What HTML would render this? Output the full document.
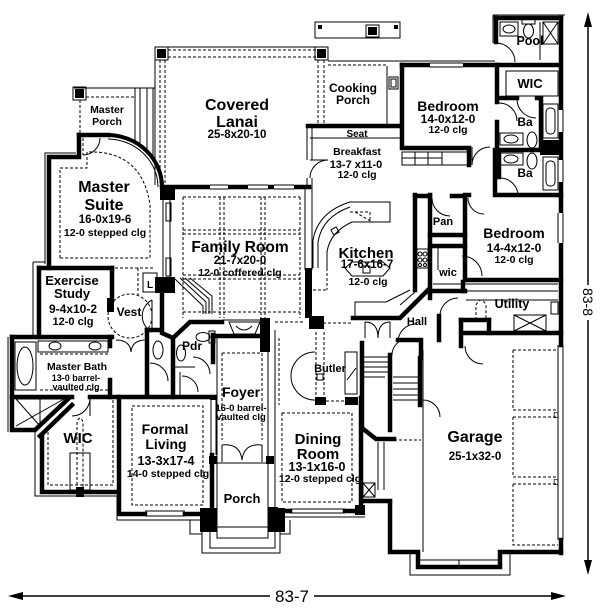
<!DOCTYPE html>
<html><head><meta charset="utf-8"><style>
html,body{margin:0;padding:0;background:#fff}
svg{display:block}
.k{fill:#000}
.t{fill:none;stroke:#000;stroke-width:1}
.d{fill:none;stroke:#000;stroke-width:1;stroke-dasharray:3 2}
.w{fill:none;stroke:#000;stroke-width:4.5;stroke-linecap:square}
.m{fill:none;stroke:#000;stroke-width:3;stroke-linecap:square}
.wh{fill:#fff}
text{font-family:"Liberation Sans",Arial,sans-serif;text-anchor:middle;fill:#000}
.b{font-weight:bold}
</style></head><body>
<svg width="600" height="614" viewBox="0 0 600 614" xmlns="http://www.w3.org/2000/svg">
<rect width="600" height="614" fill="#fff"/>

<!-- ===== Dimension arrows ===== -->
<line x1="588" y1="24" x2="588" y2="285" stroke="#000" stroke-width="1.5"/>
<line x1="588" y1="320" x2="588" y2="562" stroke="#000" stroke-width="1.5"/>
<polygon points="588,12 584,27 592,27" class="k"/>
<polygon points="588,575 584,560 592,560" class="k"/>
<text transform="translate(583,302) rotate(90)" font-size="14">83-8</text>
<line x1="20" y1="596" x2="270" y2="596" stroke="#000" stroke-width="1.5"/>
<line x1="314" y1="596" x2="554" y2="596" stroke="#000" stroke-width="1.5"/>
<polygon points="8,596 23,592 23,600" class="k"/>
<polygon points="566,596 551,592 551,600" class="k"/>
<text x="292" y="602" font-size="17">83-7</text>

<!-- ===== Covered Lanai ===== -->
<path class="t" d="M155,47 H316"/>
<path class="d" d="M168,50 H316 M168,57 H316"/>
<path class="t" d="M155,47 V185"/>
<path class="d" d="M160,60 V185 M165,60 V185"/>
<rect x="155" y="47" width="13" height="13" class="t"/><rect x="157" y="49" width="9" height="9" class="k"/>
<path class="d" d="M318,60 V125 M324,60 V125"/>
<rect x="315" y="47" width="13" height="13" class="t"/><rect x="317" y="49" width="9" height="9" class="k"/>

<!-- Cooking porch -->
<rect x="315" y="22" width="85" height="16" class="t"/>
<rect x="318" y="25" width="4" height="4" class="k"/><rect x="394" y="25" width="4" height="4" class="k"/>
<rect x="366" y="25" width="13" height="12" class="t"/><rect x="368" y="27" width="9" height="8" class="k"/>
<path class="t" d="M328,61 H495"/>
<path class="d" d="M328,65 H386"/>
<path class="t" d="M387,66 V125"/>
<rect x="389" y="77" width="9" height="12" class="t"/><rect x="391" y="79" width="5" height="8" class="t"/>

<!-- Master porch -->
<path class="t" d="M74,88 H155"/>
<path class="d" d="M86,97 H135"/>
<path class="d" d="M80,100 V133"/>
<path class="t" d="M135,88 V140 M140,88 V143 M147,88 V150 M153,88 V160"/>
<rect x="73" y="87" width="13" height="13" class="t"/><rect x="75" y="89" width="9" height="9" class="k"/>

<!-- ===== Master Suite ===== -->
<path class="w" d="M79,135 V157 H49 V268"/>
<path class="w" d="M79,135 H108"/>
<path d="M108,135 A55,52 0 0 1 162,187" fill="none" stroke="#000" stroke-width="4"/>
<path d="M108,139 A51,48 0 0 1 158,187" fill="none" stroke="#000" stroke-width="1"/>
<path class="t" d="M45,264 V153 H76"/>
<path class="t" d="M83,155 A17,17 0 0 0 100,138"/>
<path class="d" d="M83,138 V155"/>
<path class="d" d="M60,258 V168 H87 V152 Q142,150 150,205 V258 Z"/>
<rect x="160" y="185" width="15" height="15" class="k"/>
<path class="t" d="M163,200 V282 M170,200 V282"/>
<rect x="166" y="203" width="5" height="18" class="t"/>
<rect x="166" y="258" width="5" height="18" class="t"/>

<!-- Family room top wall -->
<path class="w" d="M162,187 H309"/>
<rect x="210" y="185" width="18" height="5" class="wh"/>
<rect x="248" y="185" width="20" height="5" class="wh"/>
<rect x="274" y="185" width="20" height="5" class="wh"/>
<path class="t" d="M210,185 H228 M210,189 H228 M248,185 H268 M248,189 H268 M274,185 H294 M274,189 H294"/>

<!-- coffered grid -->
<path class="d" d="M183,197 V318 M220,197 V318 M224,197 V318 M261,197 V318 M265,197 V318 M300,197 V318"/>
<path class="d" d="M183,197 H300 M183,230 H300 M183,234 H300 M183,275 H300 M183,279 H300 M183,312 H300"/>

<!-- family right / kitchen left -->
<path class="t" d="M305,185 V270 M312,185 V270"/>
<rect x="305" y="268" width="7" height="50" class="k"/>
<rect x="309" y="316" width="15" height="13" class="k"/>

<!-- Breakfast -->
<path class="w" d="M308,126 H400"/>
<path class="t" d="M310,138 H400"/>
<path class="t" d="M307,128 V160 M312,128 V160 M307,178 V186 M312,178 V186"/>
<path class="t" d="M310,178 A18,18 0 0 1 328,160"/>
<path class="t" d="M310,160 H328"/>

<!-- ===== Bedroom (top) ===== -->
<path class="w" d="M402,65 H560"/>
<rect x="430" y="63" width="33" height="5" class="wh"/>
<path class="t" d="M430,63 H463 M430,67 H463"/>
<path class="w" d="M402,65 V148 H469 V165"/>
<path class="w" d="M497,65 V102"/>
<path class="w" d="M497,122 V148"/>
<path class="t" d="M499,103 A18,18 0 0 1 517,121"/>
<path class="w" d="M495,150 V195"/>
<path class="t" d="M472,165 A18,18 0 0 1 490,147"/>
<path class="t" d="M472,147 V165"/>
<rect x="402" y="152" width="66" height="13" class="t"/>
<path class="t" d="M415,152 V165 M428,152 V165 M442,152 V165 M402,158 H442"/>

<!-- Pool bath -->
<path class="t" d="M493,15 H565 M493,15 V43"/>
<path class="w" d="M496,18 H561"/>
<path class="w" d="M496,18 V42"/>
<path class="t" d="M496,43 A19,19 0 0 1 515,62"/>
<rect x="522" y="19" width="13" height="5" class="t"/>
<ellipse cx="528.5" cy="31" rx="5" ry="7" class="t"/>
<rect x="500" y="22" width="18" height="14" class="t"/>
<ellipse cx="509" cy="29" rx="6" ry="4" class="t"/>
<rect x="543" y="22" width="15" height="22" class="t"/>
<path class="t" d="M543,22 L558,44 M558,22 L543,44"/>
<path class="t" d="M540,22 V60"/>

<!-- right outer wall -->
<path class="w" d="M561,18 V345"/>
<rect x="558" y="213" width="6" height="30" class="wh"/>
<path class="t" d="M558,213 V243 M563,213 V243"/>
<rect x="558" y="110" width="6" height="22" class="wh"/>
<path class="t" d="M558,110 V132 M563,110 V132"/>
<rect x="558" y="160" width="6" height="22" class="wh"/>
<path class="t" d="M558,160 V182 M563,160 V182"/>
<path class="t" d="M558,345 V540 M563,345 V540"/>
<path class="w" d="M561,540 V553"/>

<!-- WIC & baths right -->
<rect x="506" y="71" width="52" height="25" class="t"/>
<path class="w" d="M499,98 H517"/>
<path class="w" d="M537,98 H541 V148"/>
<path class="t" d="M517,99 A19,19 0 0 0 536,118"/>
<rect x="543" y="104" width="15" height="34" class="t"/>
<rect x="546" y="108" width="9" height="26" rx="4" class="t"/>
<rect x="540" y="140" width="21" height="15" class="k"/>
<rect x="543" y="157" width="15" height="33" class="t"/>
<rect x="546" y="161" width="9" height="25" rx="4" class="t"/>
<path class="w" d="M499,150 H540"/>
<rect x="500" y="133" width="23" height="12" class="t"/><ellipse cx="511" cy="139" rx="7" ry="4" class="t"/>
<ellipse cx="532" cy="140" rx="5" ry="8" class="t"/>
<rect x="500" y="153" width="23" height="12" class="t"/><ellipse cx="511" cy="159" rx="7" ry="4" class="t"/>
<ellipse cx="532" cy="161" rx="5" ry="8" class="t"/>
<path class="w" d="M499,150 V177"/>
<path class="t" d="M500,178 A18,18 0 0 1 518,196"/>
<path class="w" d="M499,195 H561"/>

<!-- ===== Bedroom (lower) ===== -->
<path class="w" d="M465,195 H469"/>
<path class="t" d="M468,198 A16,16 0 0 0 484,214"/>
<path class="w" d="M465,197 V280 H561"/>
<!-- pan / wic -->
<path class="w" d="M415,195 V290"/>
<path class="w" d="M430,195 V292"/>
<path class="w" d="M415,196 H430"/>
<path class="w" d="M452,196 H465"/>
<path class="t" d="M432,198 A18,18 0 0 0 450,216"/>
<path class="w" d="M430,235 H465"/>
<path class="w" d="M430,246 H465"/>
<path class="t" d="M438,248 V270"/>
<path class="t" d="M462,256 A20,20 0 0 1 482,276"/>
<path class="w" d="M428,291 H465"/>
<!-- stove -->
<rect x="417" y="249" width="11" height="19" class="t"/>
<circle cx="420" cy="254" r="2" class="t"/><circle cx="425" cy="254" r="2" class="t"/>
<circle cx="420" cy="260" r="2" class="t"/><circle cx="425" cy="260" r="2" class="t"/>
<circle cx="420" cy="265" r="1.5" class="t"/><circle cx="425" cy="265" r="1.5" class="t"/>

<!-- ===== Kitchen ===== -->
<path class="t" d="M313,268 V240 Q318,212 350,202 H390 V222 H352 Q330,232 327,252 V268"/>
<path class="t" d="M318,268 V242 Q322,217 350,207"/>
<path class="d" d="M355,212 L372,222 M350,212 H370 V222"/>
<rect x="332" y="228" width="6" height="6" class="t" transform="rotate(-30 335 231)"/>
<path class="d" d="M313,290 H327 M327,268 V290"/>
<polygon points="352,262 383,262 390,268 383,276 352,276 345,268" class="t"/>
<rect x="363" y="266" width="7" height="7" class="t"/>
<path class="w" d="M353,318 H400 L428,290"/>
<path class="t" d="M355,316 V302 H386 M386,302 L410,290 M400,305 L415,292"/>
<path class="t" d="M365,322 Q378,322 378,338 M390,322 Q378,322 378,338 M365,322 V338 M390,322 V338"/>
<path class="d" d="M313,323 H353"/>

<!-- Hall -->
<path class="w" d="M430,292 V298"/>
<path class="w" d="M439,316 V340"/>
<path class="t" d="M440,316 A18,18 0 0 1 458,298"/>
<path class="w" d="M398,340 H421 V358"/>
<path class="t" d="M398,342 A18,18 0 0 1 416,324"/>

<!-- Utility -->
<path class="t" d="M433,284 H558"/>
<path class="t" d="M466,291 H558 M466,300 H558"/>
<path class="w" d="M463,282 V291"/>
<rect x="514" y="315" width="32" height="16" class="t"/>
<path class="t" d="M514,315 L546,331 M546,315 L514,331"/>
<path class="d" d="M476,320 V305 Q481,295 486,305 V320"/>
<rect x="551" y="302" width="7" height="12" class="t"/>
<path class="w" d="M462,333 H561"/>
<path class="w" d="M461,320 H489"/>
<path class="w" d="M461,320 V346 M489,320 V333"/>
<path class="t" d="M465,346 A18,18 0 0 0 483,364"/>

<!-- ===== Garage ===== -->
<path class="t" d="M423,350 V552"/>
<path class="d" d="M513,350 H558 M513,350 V410 H558 M513,417 H558 M513,417 V477 H558 M513,484 H558 M513,484 V545 H558"/>
<text x="556" y="418" font-size="8">D</text>
<text x="556" y="485" font-size="8">D</text>
<path class="w" d="M390,503 V552 H418 V567 H500 V552 H561"/>
<path class="t" d="M410,552 V575 H510 V552"/>
<path class="t" d="M420,560 H498 M459,560 V567"/>
<path class="w" d="M362,501 H390"/>
<path class="t" d="M423,400 A17,17 0 0 1 440,417"/>

<!-- Stairs -->
<path class="w" d="M362,343 V428 L376,439 H394"/>
<path class="d" d="M394,440 H421"/>
<path class="w" d="M390,355 V430"/>
<path class="t" d="M363,357 H390 M363,362 H390 M363,367 H390 M363,372 H390 M363,377 H385"/>
<path class="t" d="M393,377 H420 M393,383 H420 M393,389 H420 M393,395 H420 M393,400 H420"/>
<path class="w" d="M420,358 V405"/>
<path class="t" d="M392,355 A16,16 0 0 1 408,339"/>
<path class="t" d="M378,442 V490 M384,442 V490"/>
<rect x="363" y="483" width="12" height="14" class="t"/>
<path class="t" d="M363,483 L375,497 M375,483 L363,497"/>

<!-- ===== Butler / Dining ===== -->
<path class="d" d="M275,322 H305"/>
<path class="t" d="M275,330 V545"/>
<path class="d" d="M279,338 V405 M316,332 V398 M324,332 V398"/>
<path class="t" d="M315,352 A24,24 0 0 0 315,400"/>
<rect x="315" y="397" width="11" height="8" class="k"/>
<rect x="345" y="397" width="13" height="8" class="k"/>
<path class="d" d="M326,401 H345"/>
<rect x="317" y="374" width="6" height="6" class="t"/>
<rect x="345" y="352" width="12" height="42" class="t"/>
<path class="t" d="M347,380 L356,368"/>
<path class="w" d="M361,398 V510"/>
<path class="d" d="M282,413 H352 V502 H282 Z"/>
<path class="w" d="M275,511 H290 M345,511 H362"/>
<path class="t" d="M290,509 H345 M290,513 H345 M278,517 H365"/>
<rect x="268" y="507" width="10" height="23" class="k"/>
<rect x="355" y="505" width="10" height="10" class="k"/>

<!-- ===== Family room bottom / fireplace ===== -->
<path class="t" d="M222,320 H262"/>
<polygon points="229,322 260,322 255,334 234,334" class="t"/>
<path class="t" d="M236,326 Q244,334 252,326"/>
<rect x="260" y="318" width="10" height="34" class="k"/>
<path class="w" d="M217,336 H260"/>
<path class="t" d="M175,279 L203,306 V314 M180,278 L206,302 V314 M185,278 L209,299 V314 M190,278 L212,296 V314"/>
<rect x="155" y="277" width="20" height="16" class="k"/>
<path class="w" d="M162,293 V333 L173,338 L190,322 H222"/>

<!-- ===== Exercise study ===== -->
<path class="w" d="M39,268 H112"/>
<path class="t" d="M33,262 V337 M33,262 H45"/>
<path class="w" d="M39,268 V337"/>
<path class="w" d="M112,268 V300"/>
<path class="d" d="M115,268 H155 M138,268 V295"/>
<rect x="143" y="273" width="14" height="19" class="t"/>
<text x="150" y="288" font-size="10" class="b">L</text>
<rect x="107" y="298" width="7" height="14" class="k"/>
<circle cx="130" cy="316" r="22" class="d"/>
<path class="t" d="M152,300 A18,18 0 0 0 152,332 M152,300 V332"/>

<!-- ===== Master bath ===== -->
<path class="w" d="M12,337 H112"/>
<path class="w" d="M12,337 V430 H35 L68,399"/>
<path class="w" d="M40,436 L72,405"/>
<path class="t" d="M8,337 V432"/>
<path class="w" d="M110,337 V346 M110,380 V397"/>
<rect x="15" y="342" width="21" height="48" class="t"/>
<ellipse cx="25" cy="366" rx="8" ry="19" class="t"/>
<rect x="38" y="341" width="70" height="11" class="t"/>
<ellipse cx="55" cy="346" rx="6" ry="4" class="t"/>
<ellipse cx="95" cy="346" rx="6" ry="4" class="t"/>
<path class="d" d="M40,354 H108 M40,390 H108"/>
<path class="t" d="M16,399 H64 M16,399 L40,426 M16,426 L64,399 M40,399 V426"/>
<path class="w" d="M12,397 H72 M90,397 H215"/>
<path class="t" d="M90,398 A18,18 0 0 1 72,416 M90,398 V416"/>

<!-- Vest doors -->
<path class="t" d="M116,340 Q130,340 131,352 M146,340 Q132,340 131,352"/>
<!-- toilet room -->
<path class="w" d="M147,330 V395"/>
<path class="w" d="M147,330 H160"/>
<ellipse cx="158" cy="350" rx="5" ry="9" class="t"/>
<path class="t" d="M150,363 A18,18 0 0 1 168,381"/>
<path class="w" d="M173,338 V397"/>
<!-- Pdr -->
<ellipse cx="181" cy="353" rx="4.5" ry="8" class="t"/>
<rect x="209" y="331" width="6" height="12" class="t"/>
<ellipse cx="203" cy="337" rx="7" ry="4.5" class="t"/>
<path class="w" d="M213,335 V362"/>
<path class="t" d="M193,357 A17,17 0 0 1 210,374"/>
<path class="t" d="M175,367 H195"/>
<path class="t" d="M180,372 V395"/>
<path class="t" d="M182,376 A16,16 0 0 1 198,392"/>

<!-- ===== WIC left ===== -->
<path class="w" d="M42,436 V492 H118"/>
<path class="t" d="M35,428 V496 H117 V520 H200"/>
<path class="w" d="M119,397 V512"/>
<rect x="76" y="487" width="8" height="10" class="k"/>
<path class="d" d="M48,432 V485 H113 V400"/>
<path class="d" d="M77,490 V422 Q80,414 83,422 V490"/>
<rect x="70" y="453" width="20" height="37" class="t"/>

<!-- ===== Formal living ===== -->
<path class="w" d="M119,514 H145 M185,514 H212 V455"/>
<path class="t" d="M145,511 H185 M145,516 H185"/>
<path class="t" d="M211,399 V455 M216,399 V455"/>
<path class="d" d="M132,406 H203 V505 H132 Z"/>
<rect x="200" y="508" width="17" height="24" class="k"/>

<!-- ===== Foyer & Porch ===== -->
<path class="t" d="M217,338 V463 M268,352 V463"/>
<path class="d" d="M222,353 H262 V440 M222,353 V440"/>
<rect x="210" y="395" width="7" height="5" class="k"/>
<rect x="209" y="456" width="8" height="8" class="k"/>
<rect x="266" y="456" width="8" height="8" class="k"/>
<path class="t" d="M222,445 Q240,443 242,460 M262,445 Q244,443 242,460 M222,445 V462 M262,445 V462"/>
<rect x="217" y="463" width="51" height="75" class="t"/>
<rect x="268" y="508" width="17" height="24" class="k"/>
<path class="t" d="M190,520 V534 H202 M290,520 V534 H280"/>
<rect x="202" y="527" width="78" height="26" class="t"/>
<path class="t" d="M210,532 V548 H275 V532"/>

<!-- ===== Labels ===== -->
<g class="b">
<text x="237" y="110" font-size="16" class="b">Covered</text>
<text x="237" y="127" font-size="16" class="b">Lanai</text>
<text x="237" y="138" font-size="11.5" class="b">25-8x20-10</text>

<text x="107" y="113" font-size="10.5" class="b">Master</text>
<text x="107" y="125" font-size="10.5" class="b">Porch</text>

<text x="353" y="92" font-size="12" class="b">Cooking</text>
<text x="353" y="104" font-size="12" class="b">Porch</text>

<text x="448" y="111" font-size="14" class="b">Bedroom</text>
<text x="448" y="123" font-size="12" class="b">14-0x12-0</text>
<text x="448" y="133" font-size="10.5">12-0 clg</text>

<text x="530" y="45" font-size="12.5" class="b">Pool</text>
<text x="530" y="88" font-size="13" class="b">WIC</text>
<text x="525" y="126" font-size="12" class="b">Ba</text>
<text x="525" y="177" font-size="12" class="b">Ba</text>

<text x="357" y="137" font-size="10">Seat</text>
<text x="357" y="155" font-size="10.5" class="b">Breakfast</text>
<text x="356" y="168" font-size="11">13-7 x11-0</text>
<text x="357" y="178" font-size="10.5">12-0 clg</text>

<text x="104" y="192" font-size="16" class="b">Master</text>
<text x="104" y="210" font-size="16" class="b">Suite</text>
<text x="105" y="223" font-size="11.5" class="b">16-0x19-6</text>
<text x="105" y="236" font-size="10.5">12-0 stepped clg</text>

<text x="240" y="252" font-size="15.5" class="b">Family Room</text>
<text x="240" y="264" font-size="11.5" class="b">21-7x20-0</text>
<text x="240" y="276" font-size="10.5">12-0 coffered clg</text>

<text x="366" y="258" font-size="15" class="b">Kitchen</text>
<text x="367" y="268" font-size="11.5" class="b">17-6x16-7</text>
<text x="368" y="285" font-size="10.5">12-0 clg</text>

<text x="443" y="225" font-size="11" class="b">Pan</text>
<text x="448" y="276" font-size="11" class="b">wic</text>

<text x="514" y="238" font-size="14" class="b">Bedroom</text>
<text x="514" y="252" font-size="12" class="b">14-4x12-0</text>
<text x="514" y="263" font-size="10.5">12-0 clg</text>

<text x="512" y="308" font-size="12.5" class="b">Utility</text>
<text x="417" y="325" font-size="11" class="b">Hall</text>
<text x="330" y="372" font-size="11" class="b">Butler</text>

<text x="72" y="285" font-size="13" class="b">Exercise</text>
<text x="72" y="298" font-size="13" class="b">Study</text>
<text x="73" y="313" font-size="12" class="b">9-4x10-2</text>
<text x="73" y="325" font-size="11">12-0 clg</text>

<text x="129" y="316" font-size="12" class="b">Vest</text>
<text x="192" y="350" font-size="12" class="b">Pdr</text>

<text x="77" y="370" font-size="10.5" class="b">Master Bath</text>
<text x="76" y="381" font-size="9">13-0 barrel-</text>
<text x="76" y="390" font-size="9">vaulted clg</text>

<text x="78" y="443" font-size="15" class="b">WIC</text>

<text x="165" y="434" font-size="14" class="b">Formal</text>
<text x="166" y="449" font-size="14" class="b">Living</text>
<text x="166" y="465" font-size="12.5" class="b">13-3x17-4</text>
<text x="168" y="477" font-size="10.5">14-0 stepped clg</text>

<text x="241" y="397" font-size="14" class="b">Foyer</text>
<text x="241" y="411" font-size="9.5">16-0 barrel-</text>
<text x="241" y="420" font-size="9.5">vaulted clg</text>

<text x="242" y="503" font-size="13" class="b">Porch</text>

<text x="318" y="444" font-size="15" class="b">Dining</text>
<text x="318" y="459" font-size="15" class="b">Room</text>
<text x="317" y="471" font-size="12.5" class="b">13-1x16-0</text>
<text x="320" y="482" font-size="10.5">12-0 stepped clg</text>

<text x="475" y="442" font-size="16" class="b">Garage</text>
<text x="475" y="460" font-size="11.5" class="b">25-1x32-0</text>
</g>
</svg>
</body></html>
